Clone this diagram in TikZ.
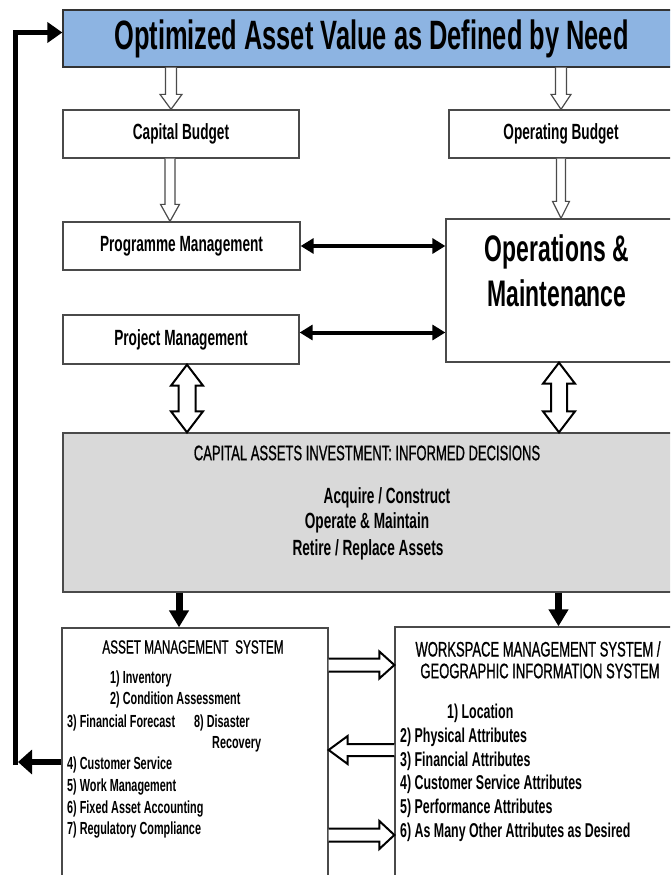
\documentclass[tikz,border=0pt]{standalone}
\usepackage{fontspec}
\setmainfont[FakeStretch=0.62]{Liberation Sans}
\newfontfamily\headfont[FakeStretch=0.62,FakeBold=0.8]{Liberation Sans}
\usetikzlibrary{arrows.meta,calc}
\definecolor{topblue}{HTML}{8DB4E2}
\definecolor{boxgray}{HTML}{D9D9D9}
\definecolor{edge}{HTML}{4A4A4A}
\newcommand\fs[1]{\fontsize{#1}{#1}\selectfont}
\tikzset{
  box/.style={draw=edge, line width=1.3pt, fill=white, inner sep=0pt},
  blabel/.style={inner sep=0pt, font=\fs{22}\bfseries},
  aitem/.style={inner sep=0pt, anchor=west, font=\fs{17.5}\bfseries},
  witem/.style={inner sep=0pt, anchor=west, font=\fs{20}\bfseries},
  heading/.style={inner sep=0pt, font=\headfont\fs{#1}},
  blk/.style={line width=4.5pt, black},
  hollow/.style={draw=edge, line width=1.2pt, fill=white, line join=miter},
  hollowbig/.style={draw=black, line width=2pt, fill=white, line join=miter},
}
% hollow single arrow: [style]{from}{to}{shaft half}{head half}{head length}
\newcommand\hollowarrow[6][hollow]{%
  \path (#2) coordinate (hA) (#3) coordinate (hB);
  \path ($(hB)!#6pt!(hA)$) coordinate (hH);
  \draw[#1] ($(hA)!#4pt!90:(hB)$) -- ($(hH)!#4pt!90:(hB)$) -- ($(hH)!#5pt!90:(hB)$) -- (hB)
    -- ($(hH)!#5pt!-90:(hB)$) -- ($(hH)!#4pt!-90:(hB)$) -- ($(hA)!#4pt!-90:(hB)$);
}
% hollow double arrow
\newcommand\hollowdouble[6][hollowbig]{%
  \path (#2) coordinate (hA) (#3) coordinate (hB);
  \path ($(hA)!#6pt!(hB)$) coordinate (hP) ($(hB)!#6pt!(hA)$) coordinate (hQ);
  \draw[#1] (hA) -- ($(hP)!#5pt!90:(hB)$) -- ($(hP)!#4pt!90:(hB)$) -- ($(hQ)!#4pt!90:(hB)$)
    -- ($(hQ)!#5pt!90:(hB)$) -- (hB) -- ($(hQ)!#5pt!-90:(hB)$) -- ($(hQ)!#4pt!-90:(hB)$)
    -- ($(hP)!#4pt!-90:(hB)$) -- ($(hP)!#5pt!-90:(hB)$) -- cycle;
}
\begin{document}
\begin{tikzpicture}[x=1pt,y=-1pt]
\useasboundingbox (0,0) rectangle (670,875);
\clip (0,0) rectangle (670,875);
\fill[white] (0,0) rectangle (670,875);

% boxes
\node[box, draw=black!80, fill=topblue, minimum width=617, minimum height=57, font=\fs{41}\bfseries] (top) at (371.5,38.5) {Optimized Asset Value as Defined by Need};
\node[box, minimum width=236, minimum height=48, blabel] (cb) at (181,134) {Capital Budget};
\node[box, minimum width=231, minimum height=48, blabel] (ob) at (564.5,134) {\hspace*{-7pt}Operating Budget};
\node[box, minimum width=237, minimum height=48, blabel] (pm) at (181.5,246) {Programme Management};
\node[box, minimum width=236, minimum height=49, blabel] (pj) at (181,339.5) {Project Management};
\node[box, minimum width=234, minimum height=143] (om) at (563,290.5) {};
\node[inner sep=0pt, align=center, font=\fontsize{37}{45}\selectfont\bfseries] (omt) at (557,270.5) {Operations \&\\Maintenance};
\node[box, fill=boxgray, minimum width=617, minimum height=159] (gray) at (371.5,512.5) {};
\node[heading=21] (g1) at (367,453) {CAPITAL ASSETS INVESTMENT: INFORMED DECISIONS};
\node[inner sep=0pt, font=\fs{22}\bfseries] (g2) at (387,498) {Acquire / Construct};
\node[inner sep=0pt, font=\fs{22}\bfseries] (g3) at (367,523) {Operate \& Maintain};
\node[inner sep=0pt, font=\fs{22}\bfseries] (g4) at (368,550) {Retire / Replace Assets};

\node[box, minimum width=266, minimum height=268] (ams) at (195,762) {};
\node[box, minimum width=285, minimum height=269] (wms) at (537.5,761.5) {};

% AMS text
\node[heading=19] (amsh) at (193,647) {ASSET MANAGEMENT\ \ SYSTEM};
\node[aitem] (a1) at (110,679) {1) Inventory};
\node[aitem] (a2) at (110,700) {2) Condition Assessment};
\node[aitem] (a3) at (67,723) {3) Financial Forecast};
\node[aitem] (a8) at (194,723) {8) Disaster};
\node[aitem] (a8b) at (212,744) {Recovery};
\node[aitem] (a4) at (67,765) {4) Customer Service};
\node[aitem] (a5) at (67,787) {5) Work Management};
\node[aitem] (a6) at (67,809) {6) Fixed Asset Accounting};
\node[aitem] (a7) at (67,830) {7) Regulatory Compliance};

% WMS text
\node[heading=21] (wh1) at (538,649) {WORKSPACE MANAGEMENT SYSTEM /};
\node[heading=21] (wh2) at (540,671) {GEOGRAPHIC INFORMATION SYSTEM};
\node[witem] (w1) at (447,713) {1) Location};
\node[witem] (w2) at (400,737) {2) Physical Attributes};
\node[witem] (w3) at (400,761) {3) Financial Attributes};
\node[witem] (w4) at (400,784) {4) Customer Service Attributes};
\node[witem] (w5) at (400,808) {5) Performance Attributes};
\node[witem] (w6) at (400,832) {6) As Many Other Attributes as Desired};

% hollow arrows
\path (cb.north) ++(-10,0) coordinate (ax1);
\hollowarrow{top.south -| ax1}{ax1}{5.5}{11}{15}
\path (ob.north) ++(-3.5,0) coordinate (ax2);
\hollowarrow{top.south -| ax2}{ax2}{5.5}{10}{15}
\path (pm.north) ++(-11.5,0) coordinate (ax3);
\hollowarrow{cb.south -| ax3}{ax3}{5}{9.5}{17}
\path (om.north) ++(-2,0) coordinate (ax4);
\hollowarrow{ob.south -| ax4}{ax4}{4.5}{8.5}{17}
\path (pj.south) ++(6,0) coordinate (ax5);
\hollowdouble{ax5}{gray.north -| ax5}{8.5}{16}{21}
\path (om.south) ++(-4,0) coordinate (ax6);
\hollowdouble{ax6}{gray.north -| ax6}{8}{16}{21}

% black double arrows
\draw[blk, line width=4pt, {Triangle[length=13pt,width=15pt]}-{Triangle[length=13pt,width=15pt]}] (pm.east) -- (pm.east -| om.west);
\path (pj.east) ++(0,-7) coordinate (ax8);
\draw[blk, line width=4pt, {Triangle[length=13pt,width=15pt]}-{Triangle[length=13pt,width=15pt]}] (ax8) -- (ax8 -| om.west);

% black down arrows
\path (ams.north) ++(-16,0) coordinate (ax9);
\draw[blk, line width=7pt, -{Triangle[length=17pt,width=19pt]}] (gray.south -| ax9) -- (ax9);
\path (wms.north) ++(21,0) coordinate (ax10);
\draw[blk, line width=7pt, -{Triangle[length=17pt,width=19pt]}] (gray.south -| ax10) -- (ax10);

% hollow arrows between lower boxes
\path (ams.east) ++(0,-97) coordinate (ax11);
\hollowarrow[hollowbig]{ax11}{ax11 -| wms.west}{6.5}{13.5}{15}
\path (wms.west) ++(0,-11.5) coordinate (ax12);
\hollowarrow[hollowbig]{ax12}{ax12 -| ams.east}{6}{14}{19}
\path (ams.east) ++(0,73) coordinate (ax13);
\hollowarrow[hollowbig]{ax13}{ax13 -| wms.west}{6.5}{14}{15}

% feedback
\coordinate (fbtip) at (18,762);
\coordinate (fbc) at (15,765);
\draw[blk, line width=6pt, -{Triangle[length=14pt,width=24pt]}] (ams.west) -- (fbtip);
\draw[blk, line width=5pt, line join=miter, -{Triangle[length=15pt,width=20pt]}] (fbc) |- ($(top.west)+(0,-6)$);
\end{tikzpicture}
\end{document}
